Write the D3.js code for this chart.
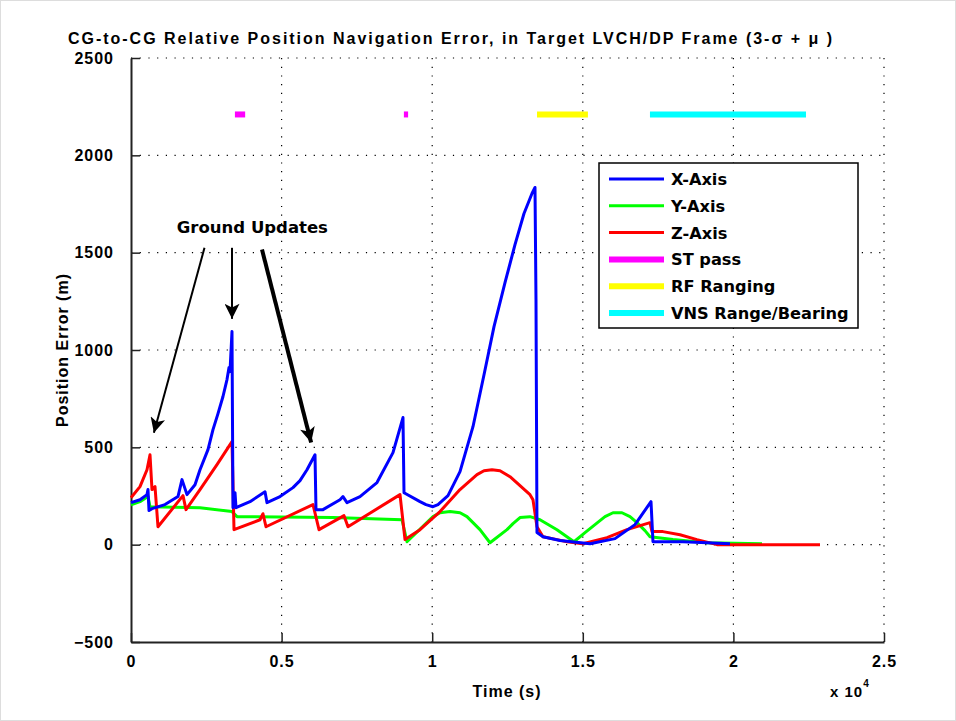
<!DOCTYPE html>
<html>
<head>
<meta charset="utf-8">
<script src="https://cdn.jsdelivr.net/npm/d3@7"></script>
<style>
  body { margin: 0; background: #fff; }
  text { font-family: "Liberation Sans", Arial, sans-serif; font-weight: bold; fill: #000; }
  .lg { font-family: "DejaVu Sans", Verdana, sans-serif; font-weight: bold; }
</style>
</head>
<body>
<div id="chart"></div>
<script>
// time (s) and position error (m)
let xTime = [0, 299, 531, 564, 598, 697, 1129, 1560, 1693, 1859, 2125, 2291, 2556, 2722, 2888, 3054, 3187, 3254, 3287, 3353, 3386, 3453, 3486, 3951, 4449, 4515, 4947, 5378, 5611, 5843, 6109, 6142, 6374, 6939, 7038, 7171, 7603, 8167, 8698, 9030, 9064, 9595, 9794, 10026, 10192, 10524, 10923, 11354, 11720, 12052, 12417, 12749, 13048, 13313, 13413, 13446, 13479, 13678, 14243, 15239, 16069, 16733, 17264, 17330, 18326, 19123, 19887];
let xErr  = [216, 231, 257, 283, 175, 185, 206, 247, 334, 257, 308, 385, 488, 591, 673, 761, 848, 910, 889, 1095, 190, 267, 190, 221, 272, 216, 247, 293, 329, 385, 462, 180, 180, 231, 247, 216, 247, 319, 473, 653, 267, 221, 206, 195, 206, 252, 375, 606, 873, 1120, 1346, 1541, 1701, 1804, 1835, 1259, 62, 41, 21, 5, 31, 103, 221, 15, 15, 10, 5];

let yTime = [0, 299, 564, 631, 2291, 3353, 3519, 6706, 8997, 9163, 10026, 10259, 10591, 10923, 11155, 11586, 11919, 12483, 12682, 12915, 13247, 13579, 14143, 14708, 15073, 15405, 15737, 16002, 16301, 16567, 16799, 17065, 17231, 17994, 19123, 20949];
let yErr  = [205, 221, 247, 195, 190, 170, 144, 139, 128, 15, 144, 164, 170, 164, 144, 77, 10, 77, 108, 139, 144, 128, 77, 15, 62, 103, 144, 164, 164, 144, 113, 72, 41, 26, 10, 5];

let zTime = [0, 299, 531, 631, 697, 797, 896, 1726, 1826, 2291, 2855, 3353, 3420, 4283, 4382, 4482, 6042, 6242, 7072, 7204, 8931, 9097, 9595, 10259, 10923, 11487, 11720, 11985, 12251, 12583, 12915, 13247, 13346, 13479, 13678, 14143, 14475, 15006, 15803, 16467, 17231, 17297, 17662, 18227, 18791, 19455, 22875];
let zErr  = [241, 298, 385, 462, 283, 298, 92, 252, 180, 283, 411, 529, 77, 128, 159, 92, 206, 77, 149, 92, 257, 26, 77, 170, 283, 360, 380, 385, 380, 349, 303, 257, 231, 92, 41, 26, 15, 5, 36, 77, 113, 67, 67, 51, 26, 0, 0];

// sensor availability windows [start, end] in s, drawn at one level
let stPass    = [[3450, 3790], [9060, 9200]];
let rfRanging = [[13480, 15170]];
let vnsRange  = [[17230, 22410]];
let barLevel  = 2210;

let xTicks = [0, 5000, 10000, 15000, 20000, 25000];
let yTicks = [-500, 0, 500, 1000, 1500, 2000, 2500];

// annotation arrows: [fromTime, fromErr, toTime, toErr, width]
let arrows = [[2440, 1525, 760, 575, 2], [3354, 1525, 3354, 1160, 2], [4349, 1516, 5980, 525, 4]];

let W = 956, H = 721;
let svg = d3.select("#chart").append("svg").attr("width", W).attr("height", H);

let x = d3.scaleLinear().domain([0, 25000]).range([131, 884]);
let y = d3.scaleLinear().domain([-500, 2500]).range([642, 58]);

svg.append("rect").attr("x", 0.5).attr("y", 0.5).attr("width", W - 1).attr("height", H - 1)
    .attr("fill", "#fff").attr("stroke", "#ddd");

// dotted grid
svg.append("g").selectAll("line").data(xTicks.slice(1)).join("line")
    .attr("x1", d => x(d)).attr("x2", d => x(d)).attr("y1", y(2500)).attr("y2", y(-500))
    .attr("stroke", "#000").attr("stroke-width", 1.2).attr("stroke-dasharray", "1.2,7.5");
svg.append("g").selectAll("line").data(yTicks.slice(1)).join("line")
    .attr("x1", x(0)).attr("x2", x(25000)).attr("y1", d => y(d)).attr("y2", d => y(d))
    .attr("stroke", "#000").attr("stroke-width", 1.2).attr("stroke-dasharray", "1.2,7.5");

// axes
let xAxis = svg.append("g").attr("transform", "translate(0," + y(-500) + ")")
    .call(d3.axisBottom(x).tickValues(xTicks).tickSizeInner(-9).tickSizeOuter(0).tickPadding(14)
          .tickFormat(d => d / 10000));
let yAxis = svg.append("g").attr("transform", "translate(" + x(0) + ",0)")
    .call(d3.axisLeft(y).tickValues(yTicks).tickSizeInner(-9).tickSizeOuter(0).tickPadding(17)
          .tickFormat(d3.format("d")));
[xAxis, yAxis].forEach(a => {
    a.select(".domain").attr("stroke", "#222").attr("stroke-width", 2);
    a.selectAll(".tick line").attr("stroke", "#222").attr("stroke-width", 1.5);
    a.selectAll("text").attr("font-size", 16).attr("font-family", null).attr("fill", "#000")
        .style("letter-spacing", "1px");
});
xAxis.selectAll("text").attr("dy", "0.71em");

// series
let line = d3.line().x(d => x(d[0])).y(d => y(d[1]));
let series = [
    {t: yTime, v: yErr, c: "#00ff00"},
    {t: zTime, v: zErr, c: "#ff0000"},
    {t: xTime, v: xErr, c: "#0000ff"}
];
series.forEach(s => {
    svg.append("path").datum(s.t.map((t, i) => [t, s.v[i]]))
        .attr("fill", "none").attr("stroke", s.c).attr("stroke-width", 3)
        .attr("stroke-linejoin", "round").attr("d", line);
});
[[stPass, "#ff00ff"], [rfRanging, "#ffff00"], [vnsRange, "#00ffff"]].forEach(b => {
    svg.append("g").selectAll("line").data(b[0]).join("line")
        .attr("x1", d => x(d[0])).attr("x2", d => x(d[1]))
        .attr("y1", y(barLevel)).attr("y2", y(barLevel))
        .attr("stroke", b[1]).attr("stroke-width", 6);
});

// arrows
let defs = svg.append("defs");
defs.append("marker").attr("id", "ah").attr("viewBox", "0 0 10 10").attr("refX", 10).attr("refY", 5)
    .attr("markerUnits", "userSpaceOnUse").attr("markerWidth", 17).attr("markerHeight", 15)
    .attr("orient", "auto")
    .append("path").attr("d", "M0,0 L10,5 L0,10 L2.5,5 Z").attr("fill", "#000");
svg.append("g").selectAll("line").data(arrows).join("line")
    .attr("x1", d => x(d[0])).attr("y1", d => y(d[1])).attr("x2", d => x(d[2])).attr("y2", d => y(d[3]))
    .attr("stroke", "#000").attr("stroke-width", d => d[4]).attr("marker-end", "url(#ah)");
svg.append("text").attr("class", "lg").attr("x", x(4030)).attr("y", y(1600)).attr("text-anchor", "middle")
    .attr("font-size", 16.5).text("Ground Updates");

// legend
let legend = [
    ["X-Axis", "#0000ff", 3], ["Y-Axis", "#00ff00", 3], ["Z-Axis", "#ff0000", 3],
    ["ST pass", "#ff00ff", 6], ["RF Ranging", "#ffff00", 6], ["VNS Range/Bearing", "#00ffff", 6]
];
let lg = svg.append("g");
lg.append("rect").attr("x", 599).attr("y", 163).attr("width", 259).attr("height", 165)
    .attr("fill", "#fff").attr("stroke", "#000").attr("stroke-width", 1.5);
legend.forEach((d, i) => {
    let ly = 179 + i * 26.8;
    lg.append("line").attr("x1", 609).attr("x2", 664).attr("y1", ly).attr("y2", ly)
        .attr("stroke", d[1]).attr("stroke-width", d[2]);
    lg.append("text").attr("class", "lg").attr("x", 671).attr("y", ly + 6).attr("font-size", 16.2).text(d[0]);
});

// titles
svg.append("text").attr("x", 68).attr("y", 44).attr("font-size", 16).attr("textLength", 764)
    .attr("lengthAdjust", "spacing").text("CG-to-CG Relative Position Navigation Error, in Target LVCH/DP Frame (3-σ + μ )");
svg.append("text").attr("x", 507).attr("y", 697).attr("text-anchor", "middle").attr("font-size", 16)
    .style("letter-spacing", "1px").text("Time (s)");
svg.append("text").attr("transform", "translate(68,350) rotate(-90)").attr("text-anchor", "middle")
    .attr("font-size", 16).style("letter-spacing", "1px").text("Position Error (m)");
let mult = svg.append("text").attr("x", 830).attr("y", 697).attr("font-size", 15).style("letter-spacing", "1px");
mult.append("tspan").text("x 10");
mult.append("tspan").attr("dy", -10).attr("font-size", 10).text("4");
</script>
</body>
</html>
